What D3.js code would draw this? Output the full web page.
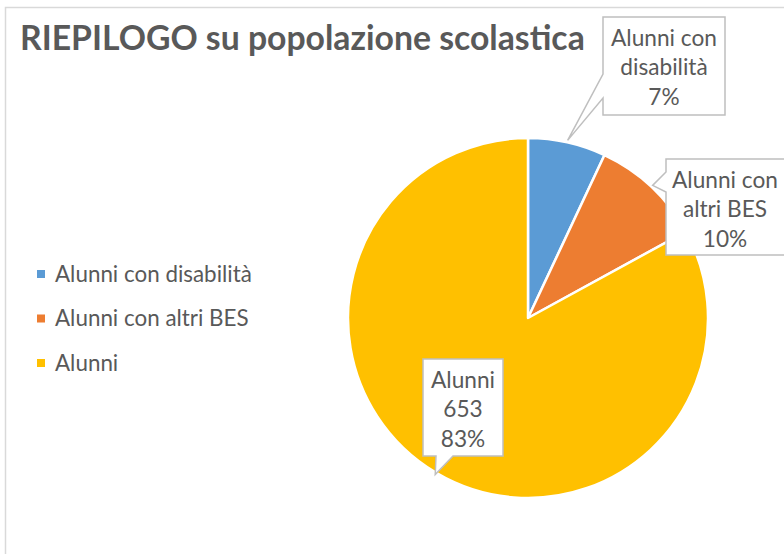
<!DOCTYPE html>
<html>
<head>
<meta charset="utf-8">
<script src="https://cdn.jsdelivr.net/npm/d3@7/dist/d3.min.js"></script>
<style>
  body { margin: 0; background: #fff; }
  text { font-family: Lato, "Open Sans", sans-serif; fill: #595959; }
</style>
</head>
<body>
<div id="chart"></div>
<script>
// data
var categories = ["Alunni con disabilità", "Alunni con altri BES", "Alunni"];
var values = [55, 79, 653];
var showValue = [false, false, true];
var colors = ["#5B9BD5", "#ED7D31", "#FFC000"];
var titleText = "RIEPILOGO su popolazione scolastica";

var svgWidth = 784;
var svgHeight = 554;

var svg = d3.select("#chart")
  .append("svg")
  .attr("width", svgWidth)
  .attr("height", svgHeight);

// chart frame
svg.append("rect")
  .attr("x", 5.5)
  .attr("y", 7.5)
  .attr("width", 800)
  .attr("height", 600)
  .attr("fill", "#fff")
  .attr("stroke", "#D9D9D9")
  .attr("stroke-width", 1.5);

// title, fitted to the width seen in the picture
var title = svg.append("text")
  .attr("x", 20)
  .attr("y", 50)
  .style("font-weight", "bold")
  .style("font-size", "30px")
  .text(titleText);
var tw = title.node().getComputedTextLength();
title.style("font-size", (30 * 565 / tw) + "px");

// pie
var cx = 528, cy = 318, radius = 180;
var total = d3.sum(values);
var pie = d3.pie().sort(null).value(d => d);
var arcs = pie(values);
var arc = d3.arc().innerRadius(0).outerRadius(radius);
var tipArc = d3.arc().innerRadius(radius + 2).outerRadius(radius + 2);

var pieGroup = svg.append("g")
  .attr("transform", `translate(${cx}, ${cy})`);

pieGroup.selectAll("path")
  .data(arcs)
  .enter()
  .append("path")
  .attr("d", arc)
  .attr("fill", (d, i) => colors[i])
  .attr("stroke", "#fff")
  .attr("stroke-width", 2.5)
  .attr("stroke-linejoin", "round");

// legend
var legendY = d3.scalePoint().domain(categories).range([274, 363]);
var legend = svg.append("g");
legend.selectAll("rect")
  .data(categories)
  .enter()
  .append("rect")
  .attr("x", 37)
  .attr("y", d => legendY(d) - 4)
  .attr("width", 8)
  .attr("height", 8)
  .attr("fill", (d, i) => colors[i]);
var legendText = legend.selectAll("text")
  .data(categories)
  .enter()
  .append("text")
  .attr("x", 55)
  .attr("y", d => legendY(d))
  .attr("dy", "0.35em")
  .style("font-size", "18px")
  .text(d => d);
var lw = legendText.nodes()[0].getComputedTextLength();
legendText.style("font-size", (18 * 197 / lw) + "px");

// measure callout font so "Alunni con" is ~106px wide
var probe = svg.append("text").style("font-size", "20px").text("Alunni con");
var calloutSize = 20 * 106 / probe.node().getComputedTextLength();
probe.remove();

// callout boxes (layout only)
var boxes = [
  {x: 603, y: 17, w: 122, h: 98, side: "left", b0: 74, b1: 98, tx: 664},
  {x: 666, y: 159, w: 140, h: 96, side: "left", b0: 172, b1: 192, tx: 725},
  {x: 423, y: 359, w: 80, h: 97, side: "bottom", b0: 436, b1: 453, tx: 463}
];

function calloutPath(b, tip) {
  var p = d3.path();
  p.moveTo(b.x, b.y);
  p.lineTo(b.x + b.w, b.y);
  p.lineTo(b.x + b.w, b.y + b.h);
  if (b.side === "bottom") {
    p.lineTo(b.b1, b.y + b.h);
    p.lineTo(tip[0], tip[1]);
    p.lineTo(b.b0, b.y + b.h);
    p.lineTo(b.x, b.y + b.h);
    p.closePath();
  } else {
    p.lineTo(b.x, b.y + b.h);
    p.lineTo(b.x, b.b1);
    p.lineTo(tip[0], tip[1]);
    p.lineTo(b.x, b.b0);
    p.closePath();
  }
  return p.toString();
}

var fmtPct = d3.format(".0%");

arcs.forEach(function(a, i) {
  var b = boxes[i];
  var c = tipArc.centroid(a);
  var tip = [cx + c[0], cy + c[1]];
  svg.append("path")
    .attr("d", calloutPath(b, tip))
    .attr("fill", "#fff")
    .attr("stroke", "#BFBFBF")
    .attr("stroke-width", 1.5)
    .attr("stroke-linejoin", "miter");

  var name = categories[i];
  var lines;
  if (name.indexOf("Alunni con ") === 0) {
    lines = ["Alunni con", name.slice(11)];
  } else {
    lines = [name];
  }
  if (showValue[i]) lines.push(String(values[i]));
  lines.push(fmtPct(values[i] / total));

  svg.selectAll(null)
    .data(lines)
    .enter()
    .append("text")
    .attr("x", b.tx)
    .attr("y", (d, j) => b.y + 21 + j * 29.5)
    .attr("dy", "0.35em")
    .attr("text-anchor", "middle")
    .style("font-size", calloutSize + "px")
    .text(d => d);
});
</script>
</body>
</html>
